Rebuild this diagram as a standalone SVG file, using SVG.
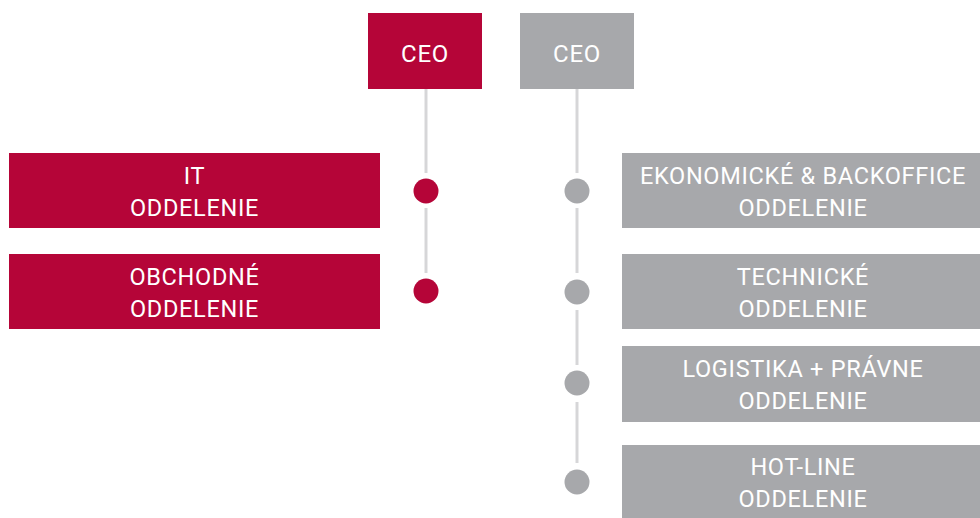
<svg xmlns="http://www.w3.org/2000/svg" width="980" height="518" viewBox="0 0 980 518">
  <style>
    .red { fill: #B50538; }
    .gray { fill: #A7A8AB; }
    .lbl { font-family: Roboto, "Liberation Sans", sans-serif; font-size: 23.5px; fill: #FFFFFF; text-anchor: middle; letter-spacing: 0.7px; }
    .ceo { font-size: 24px; }
    .link { stroke: #D6D6D8; stroke-width: 3; fill: none; }
  </style>
  <rect width="980" height="518" fill="#FFFFFF"/>

  <!-- connectors -->
  <g id="connectors">
    <line class="link" x1="426" y1="89" x2="426" y2="173"/>
    <line class="link" x1="426" y1="208" x2="426" y2="273"/>
    <line class="link" x1="577" y1="89" x2="577" y2="173"/>
    <line class="link" x1="577" y1="208" x2="577" y2="273"/>
    <line class="link" x1="577" y1="310" x2="577" y2="365"/>
    <line class="link" x1="577" y1="402" x2="577" y2="463"/>
  </g>

  <!-- timeline dots -->
  <g id="dots">
    <circle class="red" cx="426" cy="191" r="12.5"/>
    <circle class="red" cx="426" cy="291" r="12.5"/>
    <circle class="gray" cx="577" cy="191" r="12.5"/>
    <circle class="gray" cx="577" cy="292" r="12.5"/>
    <circle class="gray" cx="577" cy="383" r="12.5"/>
    <circle class="gray" cx="577" cy="482" r="12.5"/>
  </g>

  <g id="ceo-red">
    <rect class="red" x="368" y="13" width="114" height="76"/>
    <text class="lbl ceo" x="425" y="62">CEO</text>
  </g>
  <g id="ceo-gray">
    <rect class="gray" x="520" y="13" width="114" height="76"/>
    <text class="lbl ceo" x="577" y="62">CEO</text>
  </g>

  <g id="it">
    <rect class="red" x="9" y="153" width="371" height="75"/>
    <text class="lbl" x="194.5" y="184">IT</text>
    <text class="lbl" x="194.5" y="216">ODDELENIE</text>
  </g>
  <g id="obchodne">
    <rect class="red" x="9" y="254" width="371" height="75"/>
    <text class="lbl" x="194.5" y="285">OBCHODNÉ</text>
    <text class="lbl" x="194.5" y="317">ODDELENIE</text>
  </g>

  <g id="ekonomicke">
    <rect class="gray" x="622" y="153" width="358" height="75"/>
    <text class="lbl" x="803" y="184">EKONOMICKÉ &amp; BACKOFFICE</text>
    <text class="lbl" x="803" y="216">ODDELENIE</text>
  </g>
  <g id="technicke">
    <rect class="gray" x="622" y="254" width="358" height="75"/>
    <text class="lbl" x="803" y="285">TECHNICKÉ</text>
    <text class="lbl" x="803" y="317">ODDELENIE</text>
  </g>
  <g id="logistika">
    <rect class="gray" x="622" y="346" width="358" height="76"/>
    <text class="lbl" x="803" y="377">LOGISTIKA + PRÁVNE</text>
    <text class="lbl" x="803" y="409">ODDELENIE</text>
  </g>
  <g id="hotline">
    <rect class="gray" x="622" y="445" width="358" height="73"/>
    <text class="lbl" x="803" y="475">HOT-LINE</text>
    <text class="lbl" x="803" y="507">ODDELENIE</text>
  </g>
</svg>
